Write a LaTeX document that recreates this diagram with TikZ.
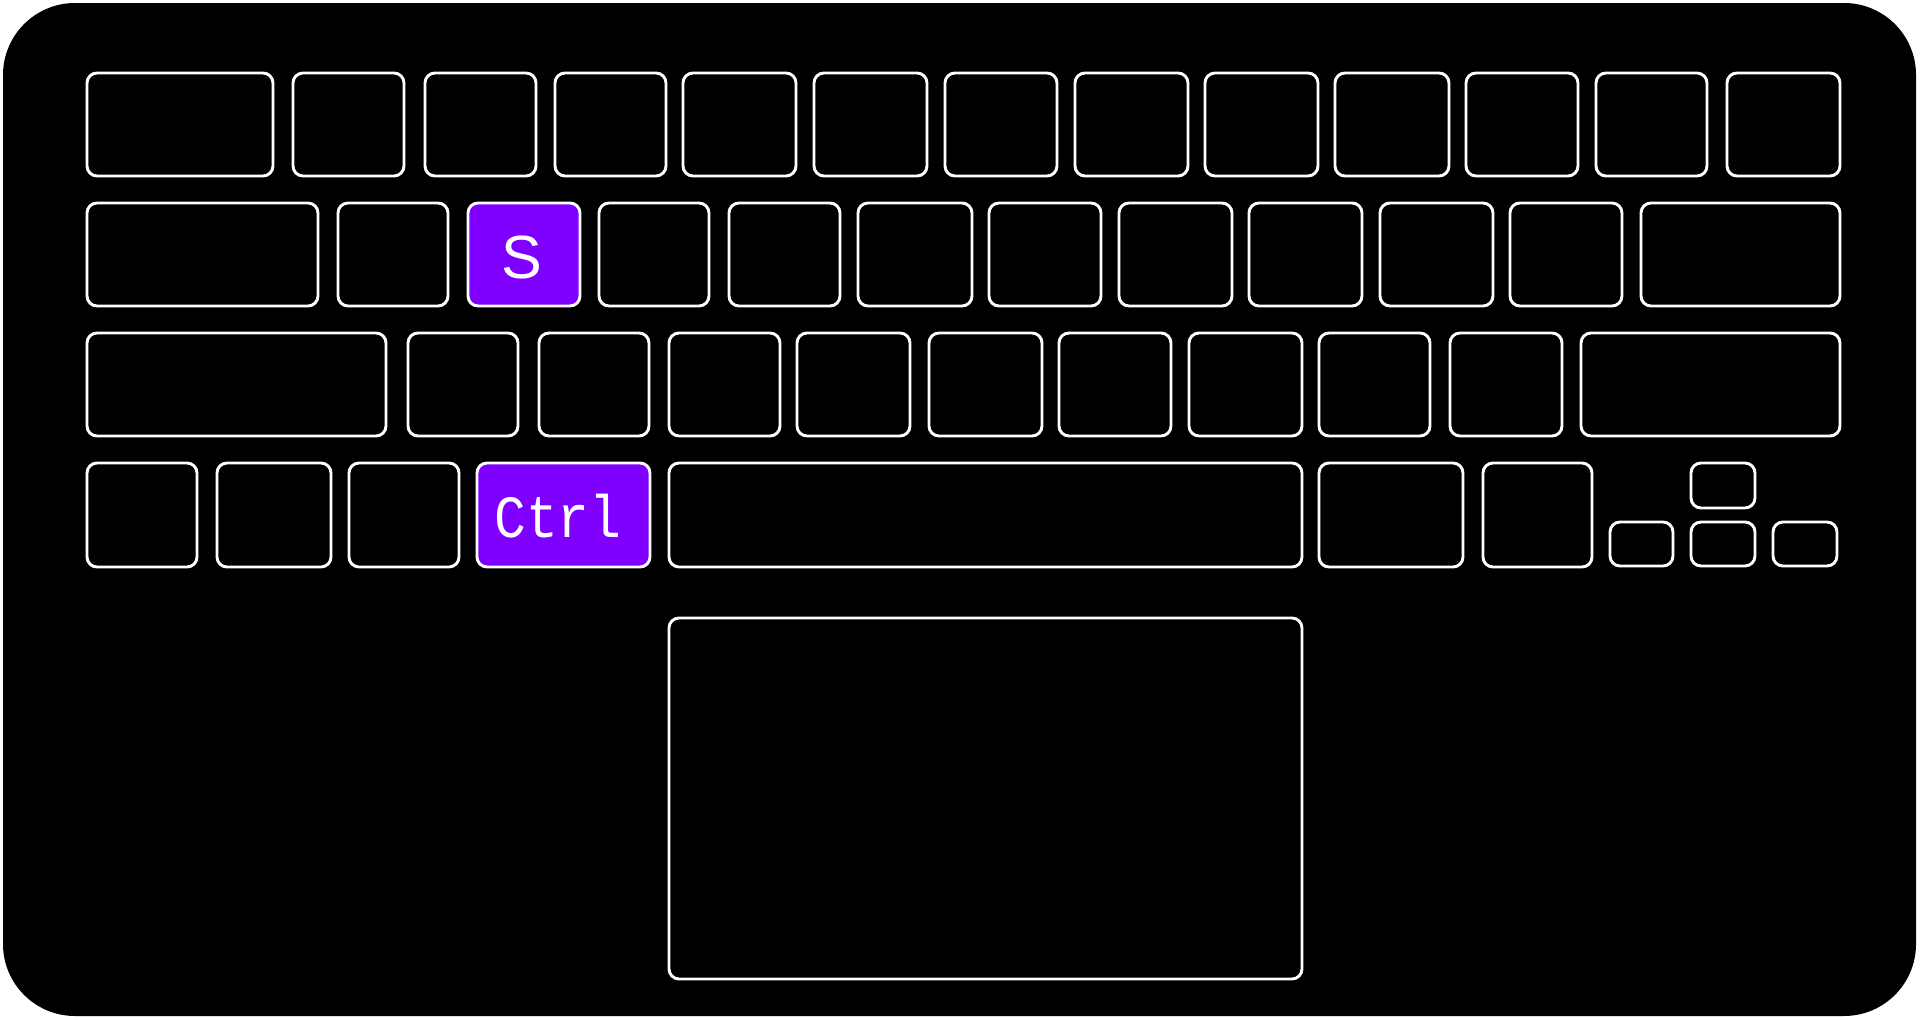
\documentclass[tikz,border=0pt]{standalone}
\usepackage{fontspec}
\usepackage{graphicx}
\newfontfamily\keyfont{Liberation Mono}
\newfontfamily\keysans{Liberation Sans}
\definecolor{keypurple}{HTML}{8000FF}
\tikzset{
  body/.style={fill=black, draw=none, rounded corners=72pt},
  keycap/.style={draw=white, line width=2.9pt, rounded corners=10pt, fill=black},
  hotkey/.style={keycap, fill=keypurple},
  keylabel/.style={text=white, inner sep=0pt, anchor=base}
}
% \keybox{style}{x1}{y1}{x2}{y2}
\newcommand{\keybox}[5]{\draw[#1] (#2,#3) rectangle (#4,#5);}
\begin{document}
\begin{tikzpicture}[x=1pt,y=-1pt]
\useasboundingbox (0,0) rectangle (1920,1020);
\fill[white] (0,0) rectangle (1920,1020);
\draw[body] (3,3) rectangle (1916,1016);
% row 1
\foreach \a/\b in {87/273,293/404,425/536,555/666,683/796,814/927,945/1057,1075/1188,1205/1318,1335/1449,1466/1578,1596/1707,1727/1840}
  {\keybox{keycap}{\a}{73}{\b}{176}}
% row 2
\foreach \a/\b in {87/318,338/448,599/709,729/840,858/972,989/1101,1119/1232,1249/1362,1380/1493,1510/1622,1641/1840}
  {\keybox{keycap}{\a}{203}{\b}{306}}
\keybox{hotkey}{468}{203}{580}{306}
\node[keylabel, font=\keysans\fontsize{61}{61}\selectfont] (s) at (522,278) {S};
% row 3
\foreach \a/\b in {87/386,408/518,539/649,669/780,797/910,929/1042,1059/1171,1189/1302,1319/1430,1450/1562,1581/1840}
  {\keybox{keycap}{\a}{333}{\b}{436}}
% row 4
\foreach \a/\b in {87/197,217/331,349/459,669/1302,1319/1463,1483/1592}
  {\keybox{keycap}{\a}{463}{\b}{567}}
\keybox{hotkey}{477}{463}{650}{567}
\node[keylabel, font=\keyfont\fontsize{53}{53}\selectfont] (ctrl) at (558,537) {\scalebox{1}[1.13]{Ctrl}};
% arrows
\keybox{keycap}{1691}{463}{1755}{508}
\keybox{keycap}{1610}{522}{1673}{566}
\keybox{keycap}{1691}{522}{1755}{566}
\keybox{keycap}{1773}{522}{1837}{566}
% touchpad
\keybox{keycap}{669}{618}{1302}{979}
\end{tikzpicture}
\end{document}
